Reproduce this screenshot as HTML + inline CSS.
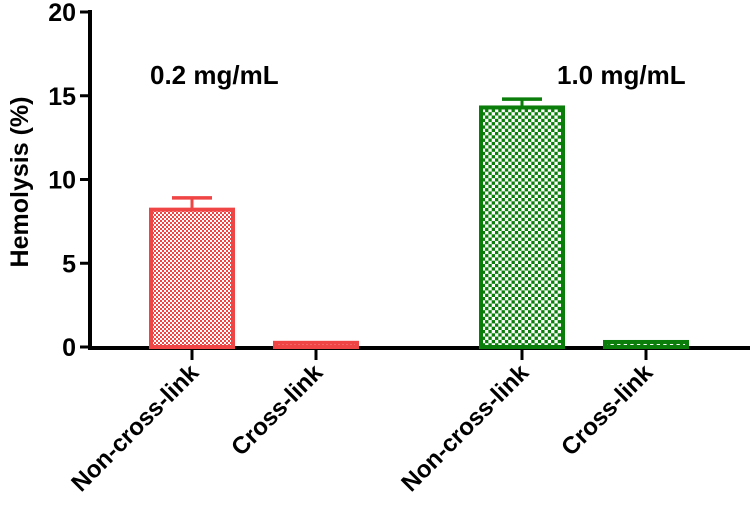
<!DOCTYPE html>
<html><head><meta charset="utf-8"><style>
body{margin:0;background:#fff}
text{font-family:"Liberation Sans",Arial,sans-serif;font-weight:bold;fill:#000}
</style></head><body>
<svg width="750" height="500">
<defs>
<pattern id="pr" width="4" height="4" patternUnits="userSpaceOnUse"><rect width="4" height="4" fill="#fff"/><rect width="2" height="2" fill="#f04545"/><rect x="2" y="2" width="2" height="2" fill="#f04545"/></pattern>
<pattern id="pg" width="6.6" height="6.6" patternUnits="userSpaceOnUse"><rect width="6.6" height="6.6" fill="#fff"/><rect width="3.3" height="3.3" fill="#0a7d0a"/><rect x="3.3" y="3.3" width="3.3" height="3.3" fill="#0a7d0a"/></pattern>
</defs>
<g id="plot"></g>
</svg>
<script>
const categories=["Non-cross-link","Cross-link","Non-cross-link","Cross-link"];
const values=[8.2,0.25,14.3,0.3];
const errors=[0.7,0,0.5,0];
const yTicks=[0,5,10,15,20];
const colors=["#f04545","#f04545","#0a7d0a","#0a7d0a"];
const fills=["url(#pr)","url(#pr)","url(#pg)","url(#pg)"];
const centers=[192,316,522,646];
const NS="http://www.w3.org/2000/svg";
const g=document.getElementById('plot');
const y=v=>347-v*16.75;
function mk(t,a,p){const e=document.createElementNS(NS,t);for(const k in a)e.setAttribute(k,a[k]);(p||g).appendChild(e);return e;}
let ax=mk('line',{x1:90,y1:10,x2:90,y2:349,stroke:'#000','stroke-width':4});


let xa=mk('line',{x1:88,y1:348,x2:750,y2:348,stroke:'#000','stroke-width':4});


yTicks.forEach(t=>{
 mk('line',{x1:80,y1:y(t),x2:90,y2:y(t),stroke:'#000','stroke-width':3});
 const tx=mk('text',{x:76,y:y(t)+9,'text-anchor':'end','font-size':25});
 tx.textContent=t;
 
 
});
values.forEach((v,i)=>{
 const c=centers[i];
 if(errors[i]>0){
  mk('line',{x1:c,y1:y(v),x2:c,y2:y(v+errors[i]),stroke:colors[i],'stroke-width':3});
  mk('line',{x1:c-20,y1:y(v+errors[i]),x2:c+20,y2:y(v+errors[i]),stroke:colors[i],'stroke-width':3.5});
 }
 const b=mk('rect',{x:c-41,y:y(v),width:82,height:Math.max(347-y(v),0.5),fill:fills[i],stroke:colors[i],'stroke-width':4});
 
 
 mk('line',{x1:c,y1:350,x2:c,y2:360,stroke:'#000','stroke-width':3});
 const l=mk('text',{x:0,y:0,'text-anchor':'end','font-size':24,transform:`translate(${c+8},${374}) rotate(-45)`});
 l.textContent=categories[i];
 
 
});
const yt=mk('text',{x:0,y:0,'text-anchor':'middle','font-size':25,transform:'translate(28,182) rotate(-90)'});
yt.textContent='Hemolysis (%)';


const a1=mk('text',{x:150,y:84,'font-size':26});a1.textContent='0.2 mg/mL';


const a2=mk('text',{x:557,y:84,'font-size':26});a2.textContent='1.0 mg/mL';


</script>
</body></html>
